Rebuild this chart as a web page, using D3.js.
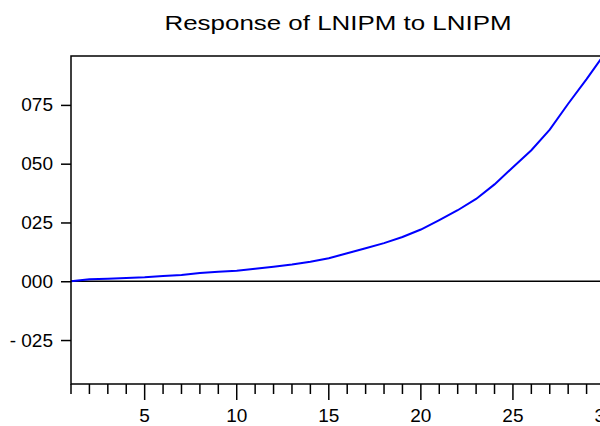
<!DOCTYPE html>
<html>
<head>
<meta charset="utf-8">
<script src="https://cdn.jsdelivr.net/npm/d3@7"></script>
<style>
  body { margin: 0; background: #fff; }
  svg { display: block; font-family: 'Liberation Sans', Arial, sans-serif; }
</style>
</head>
<body>
<script>
;(function() {
  // impulse response, periods 1..30
  var periods = d3.range(1, 31)
  var response = [
    0.0000, 0.0008, 0.0011, 0.0014, 0.0017, 0.0022, 0.0027, 0.0035, 0.0040, 0.0045,
    0.0053, 0.0062, 0.0071, 0.0083, 0.0098, 0.0119, 0.0140, 0.0162, 0.0188, 0.0220,
    0.0260, 0.0302, 0.0350, 0.0412, 0.0485, 0.0557, 0.0645, 0.0755, 0.0860, 0.0970
  ]
  var yTicks = [-0.025, 0, 0.025, 0.05, 0.075]
  var yTickLabels = ['- 025', '000', '025', '050', '075']
  var xLabelTicks = [5, 10, 15, 20, 25, 30]
  var title = 'Response of LNIPM to LNIPM'

  var width = 600,
    height = 426
  var left = 71,
    right = 605,
    top = 56,
    bottom = 384

  var svg = d3
    .select('body')
    .append('svg')
    .attr('width', width)
    .attr('height', height)

  var x = d3.scaleLinear().domain([1, 30]).range([left, right])
  var y = d3.scaleLinear().domain([-0.0437, 0.0958]).range([bottom, top])

  // title
  svg
    .append('text')
    .attr('x', (left + right) / 2)
    .attr('y', 30)
    .attr('text-anchor', 'middle')
    .attr('font-size', 20)
    .attr('textLength', 347)
    .attr('lengthAdjust', 'spacingAndGlyphs')
    .text(title)

  // zero line
  svg
    .append('line')
    .attr('x1', left)
    .attr('x2', right)
    .attr('y1', y(0))
    .attr('y2', y(0))
    .attr('stroke', '#000')
    .attr('stroke-width', 1.5)

  // the response
  var line = d3
    .line()
    .x((d, i) => x(periods[i]))
    .y(d => y(d))

  svg
    .append('path')
    .datum(response)
    .attr('d', line)
    .attr('fill', 'none')
    .attr('stroke', '#0000ff')
    .attr('stroke-width', 2)

  // frame
  svg
    .append('rect')
    .attr('x', left)
    .attr('y', top)
    .attr('width', right - left)
    .attr('height', bottom - top)
    .attr('fill', 'none')
    .attr('stroke', '#000')
    .attr('stroke-width', 1.5)

  // y axis
  var yAxis = d3
    .axisLeft(y)
    .tickValues(yTicks)
    .tickSize(10)
    .tickPadding(8)
    .tickFormat((d, i) => yTickLabels[i])

  var gy = svg
    .append('g')
    .attr('transform', 'translate(' + left + ',0)')
    .call(yAxis)
  gy.select('.domain').remove()
  gy.selectAll('line').attr('stroke', '#000').attr('stroke-width', 1.5)
  gy.selectAll('text')
    .attr('font-size', 19)
    .attr('fill', '#000')
    .attr('font-family', 'Liberation Sans, Arial, sans-serif')

  // x axis: minor ticks every period, longer ones on the labelled periods
  var gx = svg.append('g').attr('transform', 'translate(0,' + bottom + ')')

  gx.selectAll('line.tick')
    .data(periods)
    .enter()
    .append('line')
    .attr('class', 'tick')
    .attr('x1', d => x(d))
    .attr('x2', d => x(d))
    .attr('y1', 0)
    .attr('y2', d => (d % 5 === 0 ? 16 : 10))
    .attr('stroke', '#000')
    .attr('stroke-width', 1.5)

  gx.selectAll('text')
    .data(xLabelTicks)
    .enter()
    .append('text')
    .attr('x', d => x(d))
    .attr('y', 38)
    .attr('text-anchor', 'middle')
    .attr('font-size', 19)
    .text(d => d)
})()
</script>
</body>
</html>
